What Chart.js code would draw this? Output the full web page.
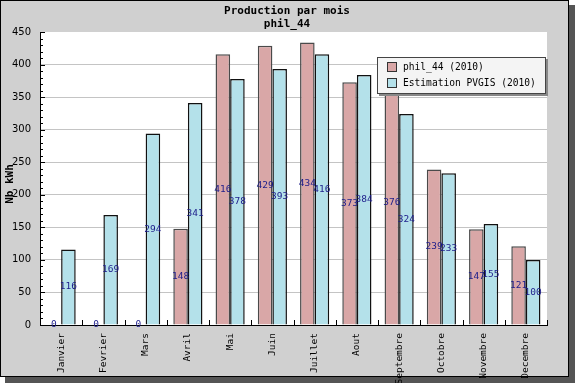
<!DOCTYPE html>
<html><head><meta charset="utf-8">
<script src="https://cdn.jsdelivr.net/npm/chart.js@4/dist/chart.umd.min.js"></script>
<style>html,body{margin:0;padding:0;background:#fff;}#wrap{width:575px;height:383px;position:relative}</style>
</head><body><div id="wrap"><canvas id="c" width="575" height="383"></canvas></div>
<script>
const categories = ['Janvier','Fevrier','Mars','Avril','Mai','Juin','Juillet','Aout','Septembre','Octobre','Novembre','Decembre'];
const phil44 = [0,0,0,148,416,429,434,373,376,239,147,121];
const pvgis = [116,169,294,341,378,393,416,384,324,233,155,100];
const seriesNames = ['phil_44 (2010)','Estimation PVGIS (2010)'];
const titleLines = ['Production par mois','phil_44'];
const yTitle = 'Nb kWh';
const yMin = 0, yMax = 450, yStep = 50, yMinorStep = 10;

const PINK = '#d9a7a7', BLUE = '#b4e1ea';
const MONO = '"DejaVu Sans Mono", "Liberation Mono", monospace';

const framePlugin = {
  id: 'frame',
  beforeDraw(chart) {
    const ctx = chart.ctx, W = chart.width, H = chart.height;
    ctx.save();
    ctx.fillStyle = '#555555';
    ctx.fillRect(5, 5, W - 5, H - 5);
    ctx.fillStyle = '#d0d0d0';
    ctx.fillRect(0, 0, W - 6, H - 6);
    ctx.strokeStyle = '#000';
    ctx.lineWidth = 1;
    ctx.strokeRect(0.5, 0.5, W - 7, H - 7);
    const a = chart.chartArea;
    ctx.fillStyle = '#ffffff';
    ctx.fillRect(a.left, a.top, a.right - a.left, a.bottom - a.top);
    ctx.fillStyle = '#000';
    ctx.font = 'bold 11px ' + MONO;
    ctx.textAlign = 'center';
    ctx.textBaseline = 'middle';
    ctx.fillText(titleLines[0], 287, 11);
    ctx.fillText(titleLines[1], 287, 24);
    ctx.save();
    ctx.translate(10, 184);
    ctx.rotate(-Math.PI / 2);
    ctx.font = 'bold 11px ' + MONO;
    ctx.fillText(yTitle, 0, 0);
    ctx.restore();
    ctx.restore();
  },
  afterDatasetsDraw(chart) {
    const ctx = chart.ctx, a = chart.chartArea;
    const ys = chart.scales.y;
    ctx.save();
    ctx.strokeStyle = '#000';
    ctx.lineWidth = 1;
    for (let v = yMin; v <= yMax; v += yMinorStep) {
      const py = Math.round(ys.getPixelForValue(v)) + 0.5;
      const len = (v % yStep === 0) ? 5 : 3;
      ctx.beginPath();
      ctx.moveTo(a.left, py);
      ctx.lineTo(a.left + len, py);
      ctx.stroke();
    }
    const n = categories.length;
    const cw = (a.right - a.left) / n;
    for (let i = 0; i <= n; i++) {
      const px = Math.round(a.left + i * cw) + 0.5;
      ctx.beginPath();
      ctx.moveTo(px, a.bottom);
      ctx.lineTo(px, a.bottom - 5);
      ctx.stroke();
    }
    ctx.fillStyle = '#1c1c8a';
    ctx.font = '9.5px ' + MONO;
    ctx.textAlign = 'center';
    ctx.textBaseline = 'middle';
    chart.data.datasets.forEach((ds, di) => {
      const meta = chart.getDatasetMeta(di);
      meta.data.forEach((el, i) => {
        const y = (el.y + el.base) / 2;
        ctx.fillText(String(ds.data[i]), el.x, y);
      });
    });
    const lx = 377, ly = 57, lw = 169, lh = 37;
    ctx.fillStyle = '#888';
    ctx.fillRect(lx + 2, ly + 2, lw, lh);
    ctx.fillStyle = '#f4f4f4';
    ctx.fillRect(lx, ly, lw, lh);
    ctx.strokeStyle = '#444';
    ctx.strokeRect(lx + 0.5, ly + 0.5, lw - 1, lh - 1);
    ctx.textAlign = 'left';
    ctx.font = '9.6px ' + MONO;
    chart.data.datasets.forEach((ds, di) => {
      const cy = ly + 10 + di * 16;
      ctx.fillStyle = ds.backgroundColor;
      ctx.fillRect(387, cy - 5, 10, 10);
      ctx.strokeStyle = '#333';
      ctx.strokeRect(387.5, cy - 4.5, 9, 9);
      ctx.fillStyle = '#000';
      ctx.fillText(ds.label, 403, cy + 0.5);
    });
    ctx.restore();
  }
};

new Chart(document.getElementById('c'), {
  type: 'bar',
  data: {
    labels: categories,
    datasets: [
      { label: seriesNames[0], data: phil44, backgroundColor: PINK, borderColor: '#4a4a4a', borderWidth: 1.5 },
      { label: seriesNames[1], data: pvgis, backgroundColor: BLUE, borderColor: '#111', borderWidth: 1.5 }
    ]
  },
  options: {
    responsive: false,
    animation: false,
    devicePixelRatio: 1,
    layout: { padding: { top: 32, right: 28, left: 0, bottom: 0 } },
    plugins: { legend: { display: false }, title: { display: false }, tooltip: { enabled: false } },
    datasets: { bar: { categoryPercentage: 0.69, barPercentage: 1.0 } },
    scales: {
      x: {
        grid: { display: false, drawTicks: false },
        border: { display: true, color: '#000', width: 1 },
        ticks: { autoSkip: false, maxRotation: 90, minRotation: 90, padding: 8, color: '#000', font: { family: MONO, size: 9.5 } },
        afterFit(s) { s.height = 58; }
      },
      y: {
        min: yMin, max: yMax,
        grid: { color: (c) => c.tick && c.tick.value === yMax ? 'rgba(0,0,0,0)' : '#c4c4c4', drawTicks: false },
        border: { display: true, color: '#000', width: 1 },
        ticks: { stepSize: yStep, padding: 9, color: '#000', font: { family: '"DejaVu Sans", sans-serif', size: 10 } },
        afterFit(s) { s.width = 40; }
      }
    }
  },
  plugins: [framePlugin]
});
</script></body></html>
